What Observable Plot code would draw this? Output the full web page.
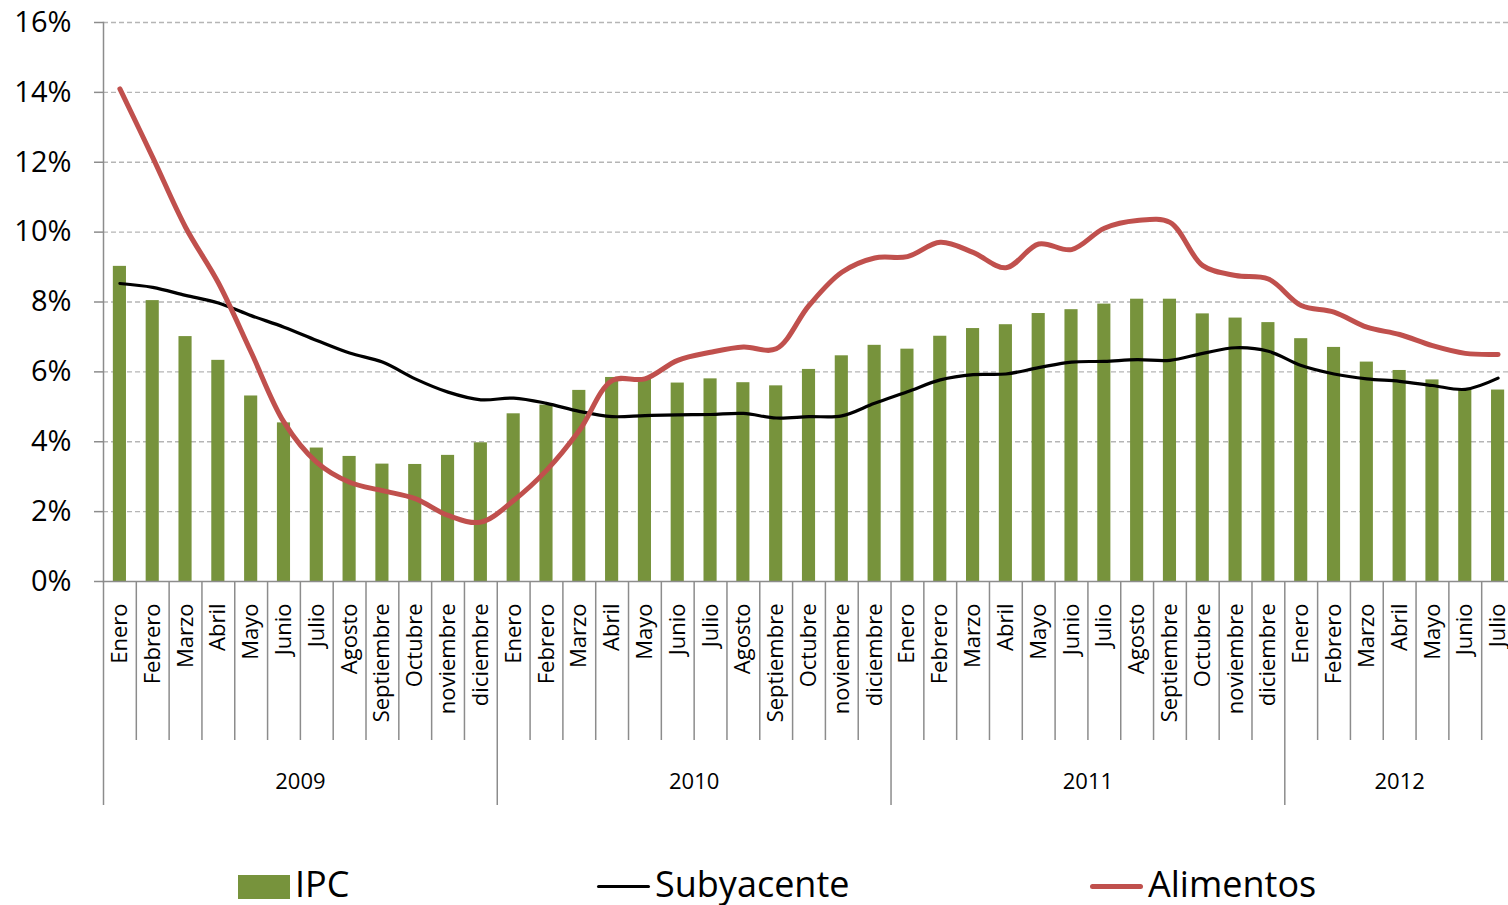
<!DOCTYPE html>
<html>
<head>
<meta charset="utf-8">
<script src="https://cdn.jsdelivr.net/npm/d3@7"></script>
<script src="https://cdn.jsdelivr.net/npm/@observablehq/plot@0.6"></script>
<style>
  html, body { margin: 0; padding: 0; background: #fff; overflow: hidden; width: 1508px; height: 905px; }
  #chart { position: absolute; left: 0; top: 0; width: 1514px; }
  #chart svg { max-width: none !important; }
  .leg { position: absolute; font-family: "Open Sans", sans-serif; font-size: 36px; line-height: 36px; color: #000; white-space: nowrap; }
  .sw { position: absolute; }
</style>
</head>
<body>
<div id="chart"></div>
<div id="legend"></div>
<script>
// ---- data ----
const monthNames = ["Enero","Febrero","Marzo","Abril","Mayo","Junio","Julio","Agosto","Septiembre","Octubre","noviembre","diciembre"];
const years = ["2009","2010","2011","2012"];
const monthsPerYear = [12, 12, 12, 7];
const months = years.flatMap((y, k) => monthNames.slice(0, monthsPerYear[k]));

const ipc = [9.02,8.04,7.01,6.33,5.31,4.54,3.82,3.58,3.36,3.35,3.61,3.97,
             4.80,5.05,5.47,5.84,5.80,5.68,5.80,5.69,5.60,6.07,6.46,6.76,
             6.65,7.02,7.24,7.35,7.67,7.78,7.94,8.08,8.08,7.66,7.54,7.41,
             6.95,6.70,6.28,6.04,5.77,5.50,5.48];
const subyacente = [8.53,8.42,8.19,7.97,7.61,7.28,6.90,6.54,6.28,5.80,5.42,5.20,
                    5.25,5.10,4.87,4.72,4.75,4.77,4.78,4.81,4.68,4.72,4.74,5.10,
                    5.43,5.77,5.92,5.94,6.12,6.28,6.30,6.35,6.33,6.53,6.69,6.59,
                    6.18,5.94,5.80,5.73,5.61,5.50,5.82];
const alimentos = [14.10,12.14,10.14,8.55,6.56,4.56,3.41,2.84,2.60,2.37,1.89,1.70,
                   2.32,3.18,4.32,5.75,5.80,6.33,6.56,6.71,6.66,7.90,8.85,9.26,
                   9.30,9.71,9.42,8.98,9.66,9.50,10.11,10.33,10.28,9.04,8.76,8.66,
                   7.90,7.71,7.28,7.07,6.75,6.53,6.50];
const yTicks = [0,2,4,6,8,10,12,14,16];

// ---- derived ----
const n = months.length;
const rows = months.map((m, i) => ({i, month: m, ipc: ipc[i], sub: subyacente[i], ali: alimentos[i]}));
const yearStarts = monthsPerYear.map((c, k) => d3.sum(monthsPerYear.slice(0, k)));
const yearBounds = yearStarts.map(s => s - 0.5);
const yearCenters = yearStarts.map((s, k) => s + (monthsPerYear[k] - 1) / 2);
const monthBounds = d3.range(n).map(i => i + 0.5).filter(b => !yearBounds.includes(b));

const GREEN = "#77933C", RED = "#C0504D", GRAY = "#8c8c8c";

const chart = Plot.plot({
  width: 1514,
  height: 820,
  marginLeft: 103,
  marginRight: 0,
  marginTop: 22,
  marginBottom: 239,
  style: {fontFamily: "'Open Sans', sans-serif", fontSize: "22px", color: "#000", background: "#fff", maxWidth: "none"},
  x: {type: "linear", domain: [-0.5, n - 0.5]},
  y: {domain: [0, 16]},
  marks: [
    Plot.gridY(yTicks.filter(t => t > 0), {stroke: "#b5b5b5", strokeOpacity: 1, strokeWidth: 1.3, strokeDasharray: "5,3"}),
    Plot.rectY(rows, {x1: d => d.i - 0.2, x2: d => d.i + 0.2, y: "ipc", fill: GREEN}),
    Plot.line(rows, {x: "i", y: "sub", stroke: "#000", strokeWidth: 3.2, curve: "catmull-rom"}),
    Plot.line(rows, {x: "i", y: "ali", stroke: RED, strokeWidth: 5, curve: "catmull-rom", strokeLinecap: "round"}),
    Plot.frame({anchor: "left", stroke: GRAY, strokeWidth: 1.5}),
    Plot.frame({anchor: "bottom", stroke: GRAY, strokeWidth: 1.5}),
    Plot.axisY({ticks: yTicks, tickFormat: d => d + "%", tickSize: 9, tickPadding: 23, fontSize: 29, stroke: GRAY, strokeWidth: 1.5, label: null}),
    // month labels
    Plot.axisX({ticks: d3.range(n), tickFormat: i => months[i], tickSize: 0, tickPadding: 22, tickRotate: -90, fontSize: 22, label: null}),
    // month separators
    Plot.axisX({ticks: monthBounds, tickFormat: () => "", tickSize: 159, stroke: GRAY, strokeWidth: 1.5, label: null}),
    // year separators
    Plot.axisX({ticks: yearBounds, tickFormat: () => "", tickSize: 224, stroke: GRAY, strokeWidth: 1.5, label: null}),
    // year labels
    Plot.axisX({ticks: yearCenters, tickFormat: (c) => years[yearCenters.indexOf(c)], tickSize: 0, tickPadding: 192, fontSize: 22, label: null})
  ]
});
document.getElementById("chart").appendChild(chart);

// ---- legend ----
const legendItems = [
  {label: "IPC", type: "rect", color: GREEN, left: 238},
  {label: "Subyacente", type: "line", color: "#000", left: 597, thick: 3},
  {label: "Alimentos", type: "line", color: RED, left: 1090, thick: 5}
];
const legend = document.getElementById("legend");
for (const it of legendItems) {
  const sw = document.createElement("div");
  sw.className = "sw";
  if (it.type === "rect") {
    Object.assign(sw.style, {left: it.left + "px", top: "875px", width: "52px", height: "24px", background: it.color});
  } else {
    Object.assign(sw.style, {left: it.left + "px", top: (886 - it.thick / 2) + "px", width: "53px", height: it.thick + "px", background: it.color, borderRadius: (it.thick / 2) + "px"});
  }
  legend.appendChild(sw);
  const t = document.createElement("div");
  t.className = "leg";
  t.textContent = it.label;
  Object.assign(t.style, {left: (it.left + (it.type === "rect" ? 57 : 58)) + "px", top: "866px"});
  legend.appendChild(t);
}
</script>
</body>
</html>
